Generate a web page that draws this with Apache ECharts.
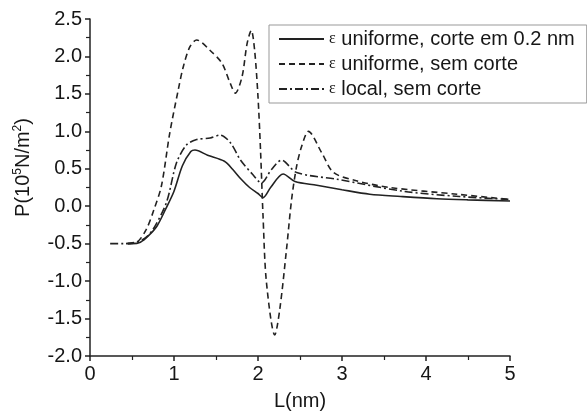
<!DOCTYPE html>
<html>
<head>
<meta charset="utf-8">
<script src="https://cdn.jsdelivr.net/npm/echarts@6/dist/echarts.min.js"></script>
<style>html,body{margin:0;padding:0;background:#fff}#c{width:587px;height:416px}</style>
</head>
<body>
<div id="c"></div>
<script>
// Series 1: ε uniforme, corte em 0.2 nm (solid)
var solidX = [0.45, 0.5, 0.6, 0.7, 0.8, 0.9, 1.0, 1.1, 1.2, 1.25, 1.4, 1.6, 1.7, 1.8, 1.9, 2.0, 2.06, 2.15, 2.3, 2.44, 2.7, 3.0, 3.33, 3.7, 4.13, 4.5, 5.0];
var solidY = [-0.5, -0.5, -0.48, -0.39, -0.26, -0.04, 0.20, 0.54, 0.73, 0.75, 0.68, 0.60, 0.49, 0.36, 0.25, 0.17, 0.115, 0.25, 0.43, 0.33, 0.28, 0.22, 0.16, 0.13, 0.10, 0.085, 0.07];
// Series 2: ε uniforme, sem corte (dashed)
var dashX = [0.45, 0.56, 0.67, 0.76, 0.85, 0.95, 1.05, 1.11, 1.19, 1.27, 1.43, 1.57, 1.67, 1.73, 1.81, 1.87, 1.92, 1.96, 2.0, 2.03, 2.06, 2.10, 2.20, 2.26, 2.34, 2.40, 2.46, 2.52, 2.60, 2.76, 2.90, 3.17, 3.57, 4.37, 5.0];
var dashY = [-0.5, -0.48, -0.31, -0.05, 0.27, 0.98, 1.55, 1.86, 2.13, 2.22, 2.08, 1.91, 1.64, 1.51, 1.73, 2.17, 2.35, 2.08, 1.46, 0.75, -0.13, -1.01, -1.72, -1.37, -0.57, 0.09, 0.535, 0.80, 1.0, 0.71, 0.45, 0.34, 0.25, 0.16, 0.09];
// Series 3: ε local, sem corte (dash-dot)
var localX = [0.24, 0.4, 0.55, 0.65, 0.75, 0.91, 1.03, 1.15, 1.27, 1.43, 1.55, 1.67, 1.79, 1.94, 2.04, 2.16, 2.28, 2.46, 2.94, 3.73, 4.4, 5.0];
var localY = [-0.5, -0.5, -0.48, -0.43, -0.31, 0.05, 0.58, 0.82, 0.89, 0.91, 0.95, 0.85, 0.62, 0.42, 0.31, 0.49, 0.615, 0.45, 0.36, 0.20, 0.13, 0.09];

var seriesNames = ['uniforme, corte em 0.2 nm', 'uniforme, sem corte', 'local, sem corte'];
var xTicks = [0, 1, 2, 3, 4, 5];
var yMin = -2.0, yMax = 2.5;

function pairs(xs, ys) { return xs.map(function (x, i) { return [x, ys[i]]; }); }

var col = '#222';
var txt = '#161616';
var sans = 'Liberation Sans, Arial, sans-serif';
var chart = echarts.init(document.getElementById('c'), null, { renderer: 'canvas' });
chart.setOption({
  animation: false,
  backgroundColor: '#fff',
  textStyle: { fontFamily: sans },
  grid: { left: 90, right: 77, top: 19, bottom: 58 },
  legend: {
    left: 269, top: 25,
    orient: 'vertical',
    itemWidth: 45, itemHeight: 14, itemGap: 5,
    padding: [4, 12, 4, 9],
    borderColor: '#999', borderWidth: 1,
    itemStyle: { opacity: 0 },
    data: seriesNames,
    formatter: function (n) { return '{e|ε} ' + n; },
    textStyle: {
      color: txt, fontSize: 20, lineHeight: 20, fontFamily: sans,
      rich: { e: { fontFamily: 'Liberation Serif, Times New Roman, serif', fontSize: 16, color: txt } }
    }
  },
  xAxis: {
    type: 'value', min: xTicks[0], max: xTicks[xTicks.length - 1], interval: 1,
    name: 'L(nm)', nameLocation: 'middle', nameGap: 35,
    nameTextStyle: { fontSize: 20, color: txt },
    axisLine: { show: true, onZero: false, lineStyle: { color: col, width: 1.5 } },
    axisTick: { show: true, inside: false, length: 5, lineStyle: { color: col, width: 1.5 } },
    minorTick: { show: true, splitNumber: 2, length: 4, lineStyle: { color: col, width: 1.2 } },
    axisLabel: { fontSize: 20, color: txt, margin: 8 },
    splitLine: { show: false }
  },
  yAxis: {
    type: 'value', min: yMin, max: yMax, interval: 0.5,
    name: '{a|P(10}{s|5}{a|N/m}{s|2}{a|)}', nameLocation: 'middle', nameGap: 56, nameRotate: 90,
    nameTextStyle: {
      padding: [0, 0, 0, 40],
      rich: {
        a: { fontSize: 20, color: txt, fontFamily: sans },
        s: { fontSize: 12, color: txt, verticalAlign: 'top', padding: [0, 0, 10, 0], fontFamily: sans }
      }
    },
    axisLine: { show: true, onZero: false, lineStyle: { color: col, width: 1.5 } },
    axisTick: { show: true, inside: false, length: 5, lineStyle: { color: col, width: 1.5 } },
    minorTick: { show: true, splitNumber: 2, length: 4, lineStyle: { color: col, width: 1.2 } },
    axisLabel: { fontSize: 20, color: txt, margin: 8, formatter: function (v) { return v.toFixed(1); } },
    splitLine: { show: false }
  },
  series: [
    { name: seriesNames[0], type: 'line', data: pairs(solidX, solidY), smooth: 0.3, symbol: 'none',
      lineStyle: { color: col, width: 1.6, type: 'solid' }, itemStyle: { color: col } },
    { name: seriesNames[1], type: 'line', data: pairs(dashX, dashY), smooth: 0.3, symbol: 'none',
      lineStyle: { color: col, width: 1.6, type: [6, 4] }, itemStyle: { color: col } },
    { name: seriesNames[2], type: 'line', data: pairs(localX, localY), smooth: 0.3, symbol: 'none',
      lineStyle: { color: col, width: 1.6, type: [8, 3, 2, 3] }, itemStyle: { color: col } }
  ]
});
</script>
</body>
</html>
